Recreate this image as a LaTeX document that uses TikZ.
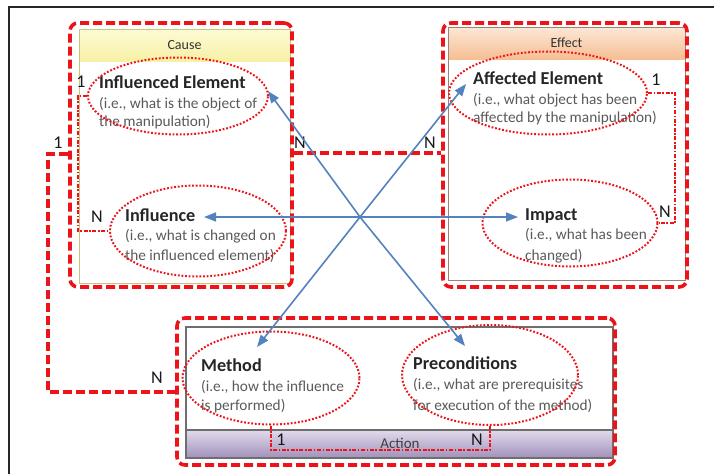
\documentclass[tikz,border=0pt]{standalone}
\usepackage{fontspec}
\setmainfont{Carlito}
\usetikzlibrary{arrows.meta,shapes.geometric}
\definecolor{dashred}{RGB}{236,20,24}
\definecolor{arrowblue}{RGB}{84,130,190}
\definecolor{desc}{RGB}{90,90,90}
\definecolor{causeedge}{RGB}{200,196,120}
\definecolor{effectedge}{RGB}{150,132,120}
\definecolor{actionedge}{RGB}{110,110,110}
\begin{document}
\begin{tikzpicture}[x=1pt,y=-1pt,
  groupbox/.style={draw=dashred, line width=3.6pt, dash pattern=on 9pt off 4pt,
    rounded corners=8pt, minimum width=#1, inner sep=0pt},
  relation/.style={draw=dashred, line width=3.6pt, dash pattern=on 9pt off 4pt},
  concept/.style={ellipse, draw=dashred, line width=2pt, dash pattern=on 1.8pt off 1.8pt,
    inner sep=0pt},
  link/.style={draw=dashred, line width=2.4pt, dash pattern=on 4pt off 1.6pt on 1.6pt off 1.6pt},
  flow/.style={draw=arrowblue, line width=1.6pt, -{Triangle[length=12pt,width=9pt]}},
  ttl/.style={font=\fontsize{18.2}{20}\selectfont\bfseries, text=black!85, anchor=base west, inner sep=0pt},
  dsc/.style={font=\fontsize{15.3}{17}\selectfont, text=desc, anchor=base west, inner sep=0pt},
  card/.style={font=\fontsize{18}{20}\selectfont, text=black!90, inner sep=0pt},
  hdr/.style={font=\fontsize{14}{16}\selectfont, text=black!80, inner sep=0pt}]
\useasboundingbox (0,0) rectangle (714,474);

% page frame
\draw[black!85, line width=2pt] (9,474) -- (9,7) -- (714,7);

% Cause panel
\fill[white] (79,29) rectangle (290,283);
\shade[top color={rgb,255:red,253;green,251;blue,214}, bottom color={rgb,255:red,247;green,240;blue,165}]
  (79,29) rectangle (290,61);
\draw[causeedge, line width=1pt] (79,29) rectangle (290,283);
\node[hdr] (causeT) at (184.5,45) {Cause};

% Effect panel
\fill[white] (448,27) rectangle (685,280);
\shade[top color={rgb,255:red,252;green,232;blue,214}, bottom color={rgb,255:red,246;green,190;blue,148}]
  (448,27) rectangle (685,59);
\draw[effectedge, line width=1pt] (448,27) rectangle (685,280);
\node[hdr] (effectT) at (566.5,43) {Effect};

% Action panel
\fill[white] (186,327) rectangle (613,458);
\shade[top color={rgb,255:red,226;green,218;blue,236}, bottom color={rgb,255:red,160;green,145;blue,186}]
  (186,430) rectangle (613,458);
\draw[actionedge, line width=1.2pt] (186,327) rectangle (613,458);
\draw[actionedge, line width=1.2pt] (186,430) -- (613,430);
\node[hdr, text=black!75, font=\fontsize{15}{16}\selectfont] (actionT) at (400,443) {Action};

% texts of the concepts
\node[ttl] (ieT) at (99,88) {Influenced Element};
\node[dsc] (ieD1) at (99,108) {(i.e., what is the object of};
\node[dsc] (ieD2) at (99,126) {the manipulation)};

\node[ttl] (infT) at (125,221) {Influence};
\node[dsc] (infD1) at (125,240) {(i.e., what is changed on};
\node[dsc] (infD2) at (125,260) {the influenced element)};

\node[ttl] (aeT) at (473,84) {Affected Element};
\node[dsc] (aeD1) at (473,104) {(i.e., what object has been};
\node[dsc] (aeD2) at (473,122) {affected by the manipulation)};

\node[ttl] (impT) at (525,220) {Impact};
\node[dsc] (impD1) at (525,239) {(i.e., what has been};
\node[dsc] (impD2) at (525,260) {changed)};

\node[ttl] (methT) at (201,371) {Method};
\node[dsc] (methD1) at (201,391) {(i.e., how the influence};
\node[dsc] (methD2) at (201,410) {is performed)};

\node[ttl] (preT) at (413,369) {Preconditions};
\node[dsc] (preD1) at (413,389) {(i.e., what are prerequisites};
\node[dsc] (preD2) at (413,410) {for execution of the method)};

% concept ellipses
\node[concept, minimum width=180pt, minimum height=77pt] (ie) at (178,96) {};
\node[concept, minimum width=176pt, minimum height=91pt] (inf) at (198,231) {};
\node[concept, minimum width=198pt, minimum height=83pt] (ae) at (548,93) {};
\node[concept, minimum width=175pt, minimum height=87pt] (imp) at (570,223) {};
\node[concept, minimum width=177pt, minimum height=93pt] (meth) at (271,378) {};
\node[concept, minimum width=176pt, minimum height=100pt] (pre) at (490,375) {};

% group outlines
\node[groupbox=222pt, minimum height=264pt] (cause) at (181,155) {};
\node[groupbox=244pt, minimum height=264pt] (effect) at (565,155) {};
\node[groupbox=438pt, minimum height=147pt] (action) at (396,391.5) {};

% relations between the groups
\draw[relation] (cause.east |- 0,153) -- (effect.west |- 0,153);
\draw[relation] (cause.west |- 0,154) -- (48,154) |- (action.west |- 0,392);

% relations inside the groups
\draw[link] (ie.west) -- (78,96) |- (inf.west);
\draw[link] (ae.east) -- (675,93) |- (imp.east);
\draw[link] (meth.south) -- (271,450) -| (pre.south);

% cardinalities
\node[card] (c1) at (81,82) {1};
\node[card] (c2) at (97,217) {N};
\node[card] (c3) at (58,143) {1};
\node[card] (c4) at (157,378) {N};
\node[card] (c5) at (300,143) {N};
\node[card] (c6) at (430,143) {N};
\node[card] (c7) at (656,80) {1};
\node[card] (c8) at (665,212) {N};
\node[card] (c9) at (281,440) {1};
\node[card] (c10) at (477,440) {N};

% influence arrows through the common crossing point
\coordinate (hub) at (360,217);
\coordinate (ieTip) at (268,91);
\coordinate (infTip) at (204,217);
\coordinate (aeTip) at (466,84);
\coordinate (impTip) at (518,217);
\coordinate (methTip) at (257,347);
\coordinate (preTip) at (465,346);
\draw[flow] (hub) -- (ieTip);
\draw[flow] (hub) -- (infTip);
\draw[flow] (hub) -- (aeTip);
\draw[flow] (hub) -- (impTip);
\draw[flow] (hub) -- (methTip);
\draw[flow] (hub) -- (preTip);
\end{tikzpicture}
\end{document}
